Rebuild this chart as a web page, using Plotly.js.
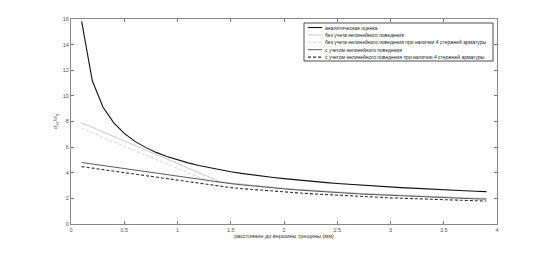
<!DOCTYPE html>
<html><head><meta charset="utf-8">
<script src="https://cdn.plot.ly/plotly-3.0.1.min.js"></script>
<style>body{margin:0;background:#fff}#c{width:550px;height:253px}</style>
</head><body><div id="c"></div>
<script>
const xs = [0.1,0.2,0.3,0.4,0.5,0.6,0.7,0.8,0.9,1.0,1.1,1.2,1.3,1.4,1.5,1.6,1.7,1.8,1.9,2.0,2.1,2.2,2.3,2.4,2.5,2.6,2.7,2.8,2.9,3.0,3.1,3.2,3.3,3.4,3.5,3.6,3.7,3.8,3.9];
const analytic = [15.81,11.18,9.13,7.91,7.07,6.45,5.98,5.59,5.27,5.00,4.77,4.56,4.39,4.23,4.08,3.95,3.83,3.73,3.63,3.54,3.45,3.37,3.30,3.23,3.16,3.10,3.04,2.99,2.94,2.89,2.84,2.80,2.75,2.71,2.67,2.64,2.60,2.56,2.53];
const linNoNL = [7.90,7.55,7.20,6.85,6.50,6.15,5.80,5.45,5.10,4.75,4.40,4.05,3.65,3.30,3.20,3.11,3.02,2.94,2.86,2.79,2.72,2.66,2.60,2.55,2.50,2.45,2.40,2.36,2.32,2.28,2.24,2.20,2.17,2.14,2.11,2.08,2.05,2.02,2.00];
const linNoNL4 = [7.45,7.10,6.76,6.41,6.07,5.72,5.38,5.03,4.69,4.34,4.00,3.65,3.30,3.24,3.15,3.07,2.98,2.90,2.82,2.75,2.68,2.62,2.56,2.51,2.46,2.41,2.36,2.32,2.28,2.24,2.20,2.16,2.13,2.10,2.07,2.04,2.01,1.98,1.96];
const withNL = [4.80,4.68,4.56,4.45,4.33,4.21,4.09,3.97,3.86,3.74,3.62,3.50,3.38,3.26,3.15,3.06,2.97,2.89,2.81,2.74,2.67,2.61,2.55,2.50,2.45,2.40,2.35,2.31,2.27,2.23,2.19,2.15,2.12,2.08,2.05,2.02,1.99,1.96,1.94];
const withNL4 = [4.48,4.36,4.24,4.12,4.00,3.88,3.76,3.64,3.52,3.40,3.28,3.16,3.04,2.92,2.84,2.76,2.69,2.62,2.56,2.50,2.44,2.39,2.34,2.29,2.24,2.20,2.16,2.12,2.08,2.04,2.01,1.98,1.95,1.92,1.89,1.86,1.84,1.81,1.79];
const names = ['аналитическая оценка','без учета нелинейного поведения','без учета нелинейного поведения при наличии 4 стержней арматуры','с учетом нелинейного поведения','с учетом нелинейного поведения при наличии 4 стержней арматуры'];
const xTicks = [0,0.5,1,1.5,2,2.5,3,3.5,4];
const xTickText = ['0','0.5','1','1.5','2','2.5','3','3.5','4'];
const yTicks = [0,2,4,6,8,10,12,14,16];
const xTitle = 'расстояние до вершины трещины (мм)';
const yTitle = 'σ<sub>yy</sub>/σ<sub>g</sub>';

const series = [analytic, linNoNL, linNoNL4, withNL, withNL4];
const styles = [
  {color:'#111111', width:1.1, dash:'solid'},
  {color:'#c4c4c4', width:0.9, dash:'solid'},
  {color:'#d0d0d0', width:0.9, dash:'3px,2px'},
  {color:'#4a4a4a', width:0.9, dash:'solid'},
  {color:'#333333', width:1.1, dash:'3px,2px'}
];
const traces = series.map((s,i)=>({x:xs, y:s, type:'scatter', mode:'lines', name:names[i], line:styles[i], showlegend:false, hoverinfo:'skip'}));

// compact legend drawn MATLAB-style
const shapes = [{type:'rect', xref:'paper', yref:'paper', x0:(304-71)/426, x1:(493-71)/426, y0:(224-61)/205, y1:(224-23)/205, line:{color:'#222', width:0.8}, fillcolor:'#fff', layer:'above'}];
const annotations = [];
names.forEach((n,i)=>{
  const yy = 27.5 + i*7.4;
  const yp = (224-yy)/205;
  shapes.push({type:'line', xref:'paper', yref:'paper', x0:(308-71)/426, x1:(322-71)/426, y0:yp, y1:yp, line:{color:styles[i].color, width:styles[i].width, dash:styles[i].dash}, layer:'above'});
  annotations.push({xref:'paper', yref:'paper', x:(323-71)/426, y:yp, xanchor:'left', yanchor:'middle', text:n, showarrow:false, font:{size:5, color:'#222', family:'Liberation Sans, Arial'}});
});

const layout = {
  width:550, height:253,
  margin:{l:71, r:53, t:19, b:29},
  paper_bgcolor:'#fff', plot_bgcolor:'#fff',
  showlegend:false,
  font:{family:'Liberation Sans, Arial', size:6, color:'#555'},
  xaxis:{range:[0,4], tickvals:xTicks, ticktext:xTickText, ticks:'inside', ticklen:3, tickcolor:'#777',
    showline:true, linecolor:'#888', linewidth:1, mirror:'ticks', showgrid:false, zeroline:false,
    tickfont:{size:5.5, color:'#555'},
    title:{text:xTitle, font:{size:5.5, color:'#333'}, standoff:2}},
  yaxis:{range:[0,16], tickvals:yTicks, ticks:'inside', ticklen:3, tickcolor:'#777',
    showline:true, linecolor:'#888', linewidth:1, mirror:'ticks', showgrid:false, zeroline:false,
    tickfont:{size:5.5, color:'#555'},
    title:{text:yTitle, font:{size:6, color:'#555'}, standoff:4}},
  shapes:shapes, annotations:annotations
};
Plotly.newPlot('c', traces, layout, {staticPlot:true, displayModeBar:false});
</script></body></html>
